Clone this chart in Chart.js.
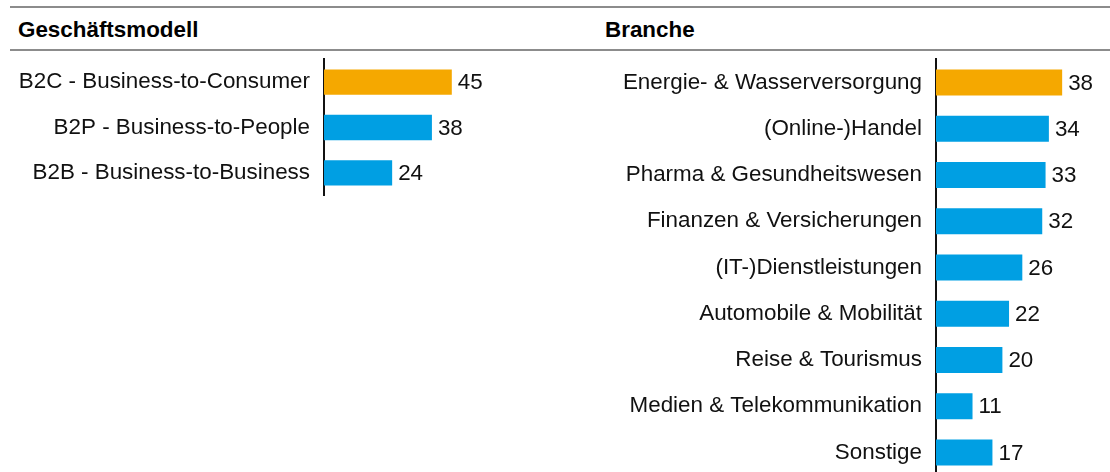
<!DOCTYPE html>
<html>
<head>
<meta charset="utf-8">
<script src="https://cdn.jsdelivr.net/npm/chart.js@4"></script>
<style>
  body { margin: 0; background: #fff; font-family: "Liberation Sans", Arial, sans-serif; }
  #wrap { position: relative; width: 1110px; height: 472px; overflow: hidden; }
  .rule { position: absolute; left: 10px; right: 0; height: 0; border-top: 2px solid #8c8c8c; }
  .title { position: absolute; top: 17px; font-weight: bold; font-size: 22.4px; line-height: 26px; color: #000; }
  .box { position: absolute; }
</style>
</head>
<body>
<div id="wrap">
  <div class="rule" style="top:6px"></div>
  <div class="rule" style="top:49px"></div>
  <div class="title" style="left:18px">Geschäftsmodell</div>
  <div class="title" style="left:605px">Branche</div>
  <!-- boxes extend past the plot: the y scale keeps ~27px of label padding above and below -->
  <div class="box" style="left:0;top:32px;width:560px;height:191px"><canvas id="modelChart"></canvas></div>
  <div class="box" style="left:600px;top:32px;width:510px;height:471px"><canvas id="branchChart"></canvas></div>
</div>
<script>
const modelLabels = ['B2C - Business-to-Consumer', 'B2P - Business-to-People', 'B2B - Business-to-Business'];
const modelValues = [45, 38, 24];
const modelColors = ['#f5a800', '#009fe3', '#009fe3'];

const branchLabels = ['Energie- & Wasserversorgung', '(Online-)Handel', 'Pharma & Gesundheitswesen',
  'Finanzen & Versicherungen', '(IT-)Dienstleistungen', 'Automobile & Mobilität',
  'Reise & Tourismus', 'Medien & Telekommunikation', 'Sonstige'];
const branchValues = [38, 34, 33, 32, 26, 22, 20, 11, 17];
const branchColors = ['#f5a800', '#009fe3', '#009fe3', '#009fe3', '#009fe3', '#009fe3', '#009fe3', '#009fe3', '#009fe3'];

const font = { family: '"Liberation Sans", Arial, sans-serif', size: 22.4 };

// value labels at bar ends
const valueLabels = {
  id: 'valueLabels',
  afterDatasetsDraw(chart) {
    const ctx = chart.ctx;
    const meta = chart.getDatasetMeta(0);
    ctx.save();
    ctx.font = font.size + 'px ' + font.family;
    ctx.fillStyle = '#111';
    ctx.textAlign = 'left';
    ctx.textBaseline = 'middle';
    meta.data.forEach((bar, i) => {
      ctx.fillText(chart.data.datasets[0].data[i], bar.x + 6, bar.y + 1);
    });
    ctx.restore();
  }
};

function makeChart(id, labels, values, colors, axisWidth, max) {
  new Chart(document.getElementById(id), {
    type: 'bar',
    data: {
      labels: labels,
      datasets: [{
        data: values,
        backgroundColor: colors,
        categoryPercentage: 1,
        barPercentage: 0.56
      }]
    },
    options: {
      indexAxis: 'y',
      responsive: true,
      maintainAspectRatio: false,
      animation: false,
      layout: { padding: 0 },
      plugins: { legend: { display: false }, tooltip: { enabled: false } },
      scales: {
        x: { display: false, min: 0, max: max },
        y: {
          grid: { display: false, drawTicks: false },
          border: { color: '#111', width: 2 },
          ticks: { color: '#111', font: font, padding: 14 },
          afterFit(scale) { scale.width = axisWidth; }
        }
      }
    },
    plugins: [valueLabels]
  });
}

makeChart('modelChart', modelLabels, modelValues, modelColors, 324, 236 / 2.84);
makeChart('branchChart', branchLabels, branchValues, branchColors, 336, 174 / 3.32);
</script>
</body>
</html>
